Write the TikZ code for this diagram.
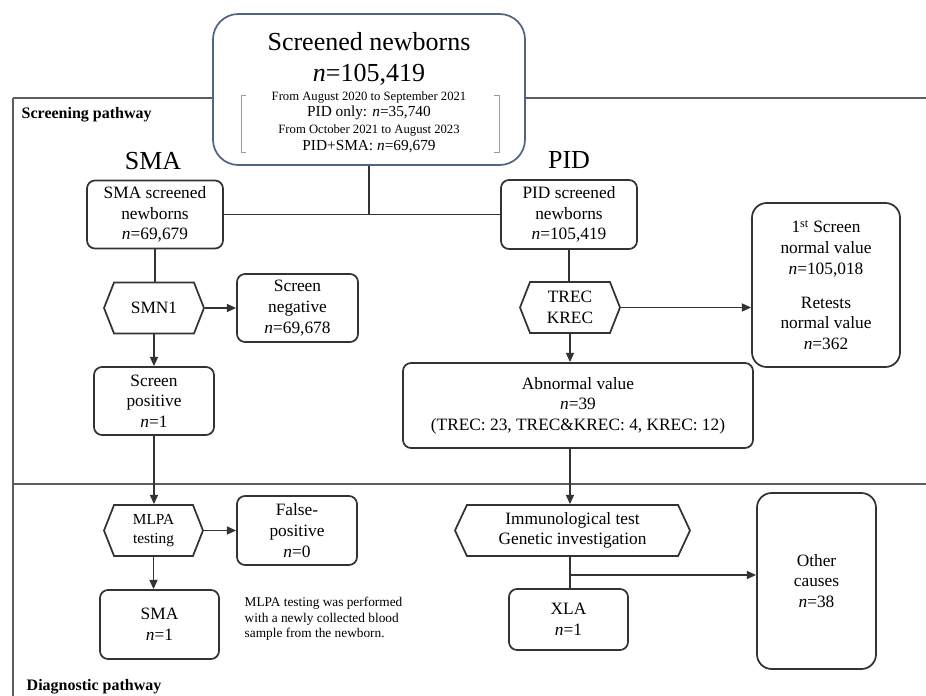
\documentclass[tikz,border=0pt]{standalone}
\usepackage{fontspec}
\setmainfont{Liberation Serif}
\usetikzlibrary{arrows.meta}
\usetikzlibrary{shapes.symbols}
\tikzset{>={Triangle[length=7pt,width=6pt]}}
\definecolor{topblue}{HTML}{4F6584}
\definecolor{boxgray}{HTML}{333333}
\definecolor{framegray}{HTML}{5C5C5C}
\definecolor{brkgray}{HTML}{9C9C9C}

\begin{document}
\begin{tikzpicture}[x=0.75pt,y=-0.75pt,
  box/.style={draw=boxgray, line width=1.3pt, rounded corners=6pt, fill=white,
    align=center, inner sep=1pt, font=\fontsize{13}{15.5}\selectfont},
  bigbox/.style={box, rounded corners=11pt},
  hexbox/.style={signal, signal to=west and east, signal pointer angle=137,
    draw=boxgray, line width=1.3pt, fill=white, align=center, inner sep=0pt,
    font=\fontsize{13}{15.5}\selectfont},
  topbox/.style={draw=topblue, line width=1.3pt, rounded corners=19pt, fill=white,
    minimum width=234pt, minimum height=113.25pt},
  lane/.style={font=\fontsize{19.5}{23}\selectfont},
  pathlbl/.style={anchor=west, font=\fontsize{12}{14}\bfseries\selectfont},
  frame/.style={draw=framegray, line width=1.4pt},
  brk/.style={draw=brkgray, line width=0.6pt},
  link/.style={draw=boxgray, line width=1.4pt}]
\useasboundingbox (0,0) rectangle (926,696);

% 框线
\draw[frame] (13,98) -- (926,98);
\draw[frame] (13,98) -- (13,696);
\draw[frame] (13,484) -- (926,484);

% 顶部
\node[topbox] (top) at (369,89.5) {};
\node[align=center, font=\fontsize{19.5}{23.25}\selectfont] (ttl) at (369,59)
  {Screened newborns\\\textit{n}=105,419};
\node[align=center, font=\fontsize{9.5}{12.5}\selectfont] (per) at (369,122)
  {From August 2020 to September 2021\\
   {\fontsize{11.5}{12.5}\selectfont PID only: \textit{n}=35,740}\\
   From October 2021 to August 2023\\
   {\fontsize{11.5}{12.5}\selectfont PID+SMA: \textit{n}=69,679}};
\draw[brk] (246,95) -- (241,95) -- (241,152) -- (246,152);
\draw[brk] (494,95) -- (499,95) -- (499,152) -- (494,152);

% 标签
\node[pathlbl] (scrlbl) at (17,115) {Screening pathway};
\node[pathlbl] (diaglbl) at (22,687) {Diagnostic pathway};
\node[lane] (smalbl) at (153,161) {SMA};
\node[lane] (pidlbl) at (569,160) {PID};
\node[anchor=west, align=left, font=\fontsize{10}{11.6}\selectfont] (note) at (240,619)
  {MLPA testing was performed\\with a newly collected blood\\sample from the newborn.};

% SMA
\node[box, minimum width=102pt, minimum height=51pt] (smascr) at (155,214.5)
  {SMA screened\\newborns\\\textit{n}=69,679};
\node[hexbox, minimum width=75pt, minimum height=38.25pt] (smn) at (154,308) {SMN1};
\node[box, minimum width=90.75pt, minimum height=51pt] (neg) at (297.5,308)
  {Screen\\negative\\\textit{n}=69,678};
\node[box, minimum width=90pt, minimum height=51pt] (pos) at (154,401)
  {Screen\\positive\\\textit{n}=1};
\node[hexbox, minimum width=74.25pt, minimum height=38.25pt,
  font=\fontsize{11.5}{14.5}\selectfont] (mlpa) at (153.5,530.5) {MLPA\\testing};
\node[box, minimum width=90pt, minimum height=51.75pt] (fp) at (297,530.5)
  {False-\\positive\\\textit{n}=0};
\node[box, minimum width=89.25pt, minimum height=51.75pt] (sma) at (159.5,624.5)
  {SMA\\\textit{n}=1};

% PID
\node[box, minimum width=102pt, minimum height=51.75pt] (pidscr) at (569,214.5)
  {PID screened\\newborns\\\textit{n}=105,419};
\node[hexbox, minimum width=75pt, minimum height=38.25pt] (trec) at (570,307.5)
  {TREC\\KREC};
\node[bigbox, minimum width=111pt, minimum height=123pt] (norm) at (826,285)
  {1\textsuperscript{st} Screen\\normal value\\\textit{n}=105,018\\[10pt]
   Retests\\normal value\\\textit{n}=362};
\node[box, minimum width=262.5pt, minimum height=63.75pt] (abn) at (578,405.5)
  {Abnormal value\\\textit{n}=39\\(TREC: 23, TREC\&KREC: 4, KREC: 12)};
\node[hexbox, signal pointer angle=130, minimum width=176.25pt, minimum height=38.25pt,
  font=\fontsize{13}{14.5}\selectfont] (immu) at (572.5,530.5)
  {Immunological test\\Genetic investigation};
\node[box, minimum width=89.25pt, minimum height=45.75pt] (xla) at (568.5,619.5)
  {XLA\\\textit{n}=1};
\node[bigbox, minimum width=89.25pt, minimum height=132pt] (oth) at (816.5,581)
  {Other\\causes\\\textit{n}=38};

% 连线
\coordinate (jn) at (369,214);
\coordinate (br) at (570,575);
\draw[link] (top.south) -- (jn);
\draw[link] (smascr.east) -- (pidscr.west);
\draw[link] (smascr.south) -- (smascr.south |- smn.north);
\draw[link,->] (smn.east) -- (neg.west);
\draw[link,->] (smn.south) -- (pos.north);
\draw[link,->] (pos.south) -- (pos.south |- mlpa.north);
\draw[link,->] (mlpa.east) -- (fp.west);
\draw[link,->] (mlpa.south) -- (mlpa.south |- sma.north);
\draw[link] (pidscr.south) -- (pidscr.south |- trec.north);
\draw[link,->] (trec.east) -- (trec.east -| norm.west);
\draw[link,->] (trec.south) -- (trec.south |- abn.north);
\draw[link,->] (trec.south |- abn.south) -- (trec.south |- immu.north);
\draw[link] (trec.south |- immu.south) -- (trec.south |- xla.north);
\draw[link,->] (br) -- (br -| oth.west);
\end{tikzpicture}
\end{document}
